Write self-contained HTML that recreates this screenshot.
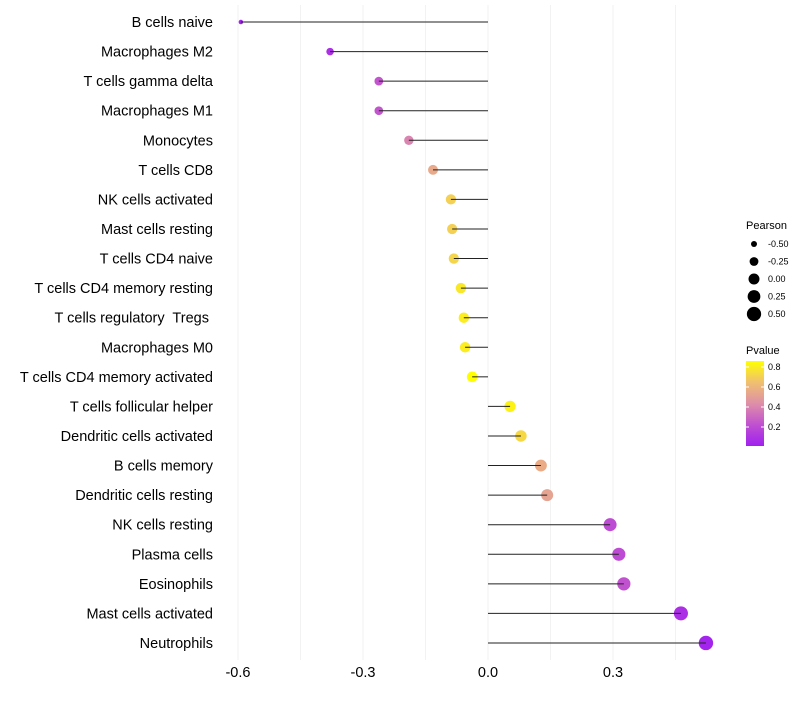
<!DOCTYPE html>
<html><head><meta charset="utf-8"><style>
body{margin:0;background:#fff;font-family:"Liberation Sans",Arial,sans-serif}
text{white-space:pre}
</style></head><body>
<svg id="chart" width="800" height="700" xmlns="http://www.w3.org/2000/svg">
<defs><linearGradient id="pg" x1="0" y1="1" x2="0" y2="0">
<stop offset="0" stop-color="#A020F0"/><stop offset="0.25" stop-color="#C050D0"/><stop offset="0.5" stop-color="#DE8FA8"/><stop offset="0.75" stop-color="#F0C070"/><stop offset="1" stop-color="#FFFF00"/></linearGradient></defs>
<g id="grid"></g><g id="marks"></g><g id="labels"></g>
<g font-size="9" fill="#000">
<text x="746" y="229" font-size="11">Pearson</text>
<g id="sizeleg"></g>
</g>
<g font-size="9">
<text x="746" y="354" font-size="11">Pvalue</text>
<rect x="746" y="361" width="18" height="85" fill="url(#pg)"/>
<g id="pleg"></g>
</g>
</svg>
<script>
const categories=["B cells naive","Macrophages M2","T cells gamma delta","Macrophages M1","Monocytes","T cells CD8","NK cells activated","Mast cells resting","T cells CD4 naive","T cells CD4 memory resting","T cells regulatory  Tregs ","Macrophages M0","T cells CD4 memory activated","T cells follicular helper","Dendritic cells activated","B cells memory","Dendritic cells resting","NK cells resting","Plasma cells","Eosinophils","Mast cells activated","Neutrophils"];
const pearson=[-0.593,-0.379,-0.262,-0.262,-0.19,-0.132,-0.089,-0.086,-0.082,-0.065,-0.058,-0.055,-0.038,0.053,0.079,0.127,0.142,0.293,0.314,0.326,0.463,0.523];
const pvalue=[0.02,0.08,0.24,0.24,0.4,0.55,0.7,0.7,0.72,0.78,0.8,0.8,0.87,0.82,0.73,0.56,0.52,0.2,0.2,0.23,0.08,0.03];
const xTicks=[-0.6,-0.3,0.0,0.3];
const xTickLabels=["-0.6","-0.3","0.0","0.3"];
const sizeLegend=[-0.5,-0.25,0,0.25,0.5];
const sizeLegendLabels=["-0.50","-0.25","0.00","0.25","0.50"];
const pTicks=[0.2,0.4,0.6,0.8];
const NS="http://www.w3.org/2000/svg";
const X=v=>488+v*416.7;
const Y=i=>22+i*29.57;
const R=p=>Math.sqrt(Math.max(1,30+42*p));
const stops=[[0,[160,32,240]],[0.25,[192,80,208]],[0.5,[222,143,168]],[0.75,[240,192,112]],[1,[255,255,0]]];
function col(p){let t=Math.min(1,Math.max(0,(p-0.01)/0.85));for(let k=1;k<stops.length;k++){if(t<=stops[k][0]){const a=stops[k-1],b=stops[k];const f=(t-a[0])/(b[0]-a[0]);return "rgb("+a[1].map((c,j)=>Math.round(c+(b[1][j]-c)*f)).join(",")+")";}}return "rgb(255,255,0)";}
function mk(tag,attrs,parent){const e=document.createElementNS(NS,tag);for(const k in attrs)e.setAttribute(k,attrs[k]);parent.appendChild(e);return e;}
const grid=document.getElementById('grid'),marks=document.getElementById('marks'),labels=document.getElementById('labels');
[-0.6,-0.45,-0.3,-0.15,0,0.15,0.3,0.45].forEach(v=>{const l=mk('line',{x1:X(v),x2:X(v),y1:5,y2:660,stroke:'#f2f2f2','stroke-width':1},grid);

});
xTicks.forEach((v,i)=>{const t=mk('text',{x:X(v),y:677,'text-anchor':'middle','font-size':14.5,fill:'#000'},labels);t.textContent=xTickLabels[i];

});
categories.forEach((c,i)=>{const t=mk('text',{x:213,y:Y(i)+5,'text-anchor':'end','font-size':14.5,fill:'#000'},labels);t.textContent=c;


const cc=mk('circle',{cx:X(pearson[i]),cy:Y(i),r:R(pearson[i]),fill:col(pvalue[i])},marks);


const l=mk('line',{x1:X(0),x2:X(pearson[i]),y1:Y(i),y2:Y(i),stroke:'#222','stroke-width':1},marks);

});
const sl=document.getElementById('sizeleg');
sizeLegend.forEach((v,i)=>{const y=244+i*17.5;const c=mk('circle',{cx:754,cy:y,r:R(v),fill:'#000'},sl);


const t=mk('text',{x:768,y:y+3},sl);t.textContent=sizeLegendLabels[i];

});
const pl=document.getElementById('pleg');
pTicks.forEach(v=>{const y=447-v*100;mk('line',{x1:746,x2:749,y1:y,y2:y,stroke:'#fff'},pl);mk('line',{x1:761,x2:764,y1:y,y2:y,stroke:'#fff'},pl);
const t=mk('text',{x:768,y:y+3},pl);t.textContent=v.toFixed(1);

});
</script>
</body></html>
